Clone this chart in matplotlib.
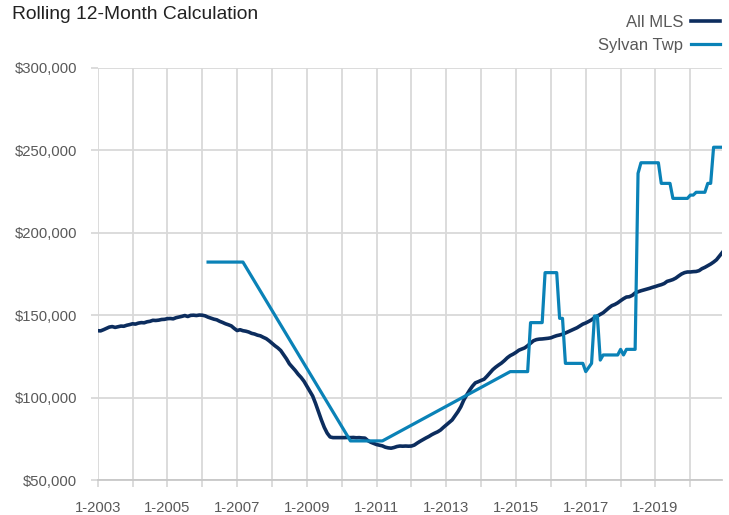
import numpy as np
import matplotlib
matplotlib.use("Agg")
import matplotlib.pyplot as plt
from matplotlib.ticker import FuncFormatter

plt.rcParams['font.family'] = ['Liberation Sans', 'DejaVu Sans']

# monthly rolling 12-month values, in $ thousands, 1-2003 .. 12-2020
years = list(range(2003, 2021))

all_mls = [
    140.6, 140.5, 141.2, 142.0, 142.8, 143.1, 142.6, 143.0, 143.4, 143.3, 143.9, 144.3,  # 2003
    144.8, 144.6, 145.2, 145.5, 145.4, 146.0, 146.3, 146.9, 146.8, 147.0, 147.4, 147.5,  # 2004
    147.9, 148.0, 147.8, 148.5, 148.9, 149.3, 149.8, 149.2, 149.9, 150.0, 149.8, 150.1,  # 2005
    150.0, 149.6, 148.8, 148.2, 147.6, 147.2, 146.3, 145.6, 144.8, 144.2, 143.5, 142.0,  # 2006
    140.7, 141.2, 140.6, 140.3, 139.8, 139.0, 138.6, 137.9, 137.5, 136.6, 135.8, 134.5,  # 2007
    133.0, 131.5, 130.2, 128.6, 126.0, 123.5, 120.5, 118.5, 116.5, 114.2, 112.3, 110.0,  # 2008
    107.0, 104.0, 101.0, 96.5, 91.5, 86.5, 82.0, 78.5, 76.2, 75.8, 75.8, 75.8,  # 2009
    75.8, 75.8, 75.9, 75.8, 75.9, 75.7, 75.8, 75.6, 75.5, 74.0, 73.0, 72.3,  # 2010
    71.6, 71.2, 70.8, 70.0, 69.6, 69.4, 69.8, 70.4, 70.7, 70.6, 70.7, 70.6,  # 2011
    70.7, 71.3, 72.5, 73.6, 74.6, 75.6, 76.5, 77.6, 78.5, 79.3, 80.4, 82.0,  # 2012
    83.5, 85.0, 86.5, 89.0, 91.5, 94.5, 98.5, 101.6, 104.5, 107.0, 109.0, 109.7,  # 2013
    110.5, 111.2, 113.0, 115.0, 117.0, 118.5, 119.8, 121.0, 122.5, 124.2, 125.5, 126.4,  # 2014
    127.5, 128.8, 129.5, 130.2, 131.5, 133.0, 134.5, 135.2, 135.5, 135.6, 135.8, 136.0,  # 2015
    136.3, 137.0, 137.6, 138.0, 138.5, 139.2, 140.0, 140.8, 141.6, 142.4, 143.5, 144.6,  # 2016
    145.3, 146.2, 147.2, 148.5, 149.5, 150.5, 151.5, 153.0, 154.5, 155.8, 156.5, 157.5,  # 2017
    158.8, 160.0, 161.0, 161.2, 162.0, 163.5, 164.2, 164.8, 165.3, 165.8, 166.3, 166.9,  # 2018
    167.4, 168.0, 168.5, 169.2, 170.5, 171.0, 171.6, 172.5, 173.8, 175.0, 175.8, 176.2,  # 2019
    176.2, 176.4, 176.5, 177.0, 178.2, 179.0, 180.0, 181.0, 182.2, 183.6, 185.8, 188.0,  # 2020
]

N = None
sylvan = [
    N, N, N, N, N, N, N, N, N, N, N, N,  # 2003
    N, N, N, N, N, N, N, N, N, N, N, N,  # 2004
    N, N, N, N, N, N, N, N, N, N, N, N,  # 2005
    N, N, 182.2, 182.2, 182.2, 182.2, 182.2, 182.2, 182.2, 182.2, 182.2, 182.2,  # 2006
    182.2, 182.2, 182.2, N, N, N, N, N, N, N, N, N,  # 2007
    N, N, N, N, N, N, N, N, N, N, N, N,  # 2008
    N, N, N, N, N, N, N, N, N, N, N, N,  # 2009
    N, N, N, 73.8, 73.8, 73.8, 73.8, 73.8, 73.8, 73.8, 73.8, 73.8,  # 2010
    73.8, 73.8, 73.8, N, N, N, N, N, N, N, N, N,  # 2011
    N, N, N, N, N, N, N, N, N, N, N, N,  # 2012
    N, N, N, N, N, N, N, N, N, N, N, N,  # 2013
    N, N, N, N, N, N, N, N, N, N, 115.8, 115.8,  # 2014
    115.8, 115.8, 115.8, 115.8, 115.8, 145.5, 145.5, 145.5, 145.5, 145.5, 175.8, 175.8,  # 2015
    175.8, 175.8, 175.8, 148.1, 148.1, 120.8, 120.8, 120.8, 120.8, 120.8, 120.8, 120.8,  # 2016
    115.8, 118.3, 120.8, 149.5, 149.5, 122.8, 125.9, 125.9, 125.9, 125.9, 125.9, 125.9,  # 2017
    129.3, 125.9, 129.3, 129.3, 129.3, 129.3, 236.0, 242.4, 242.4, 242.4, 242.4, 242.4,  # 2018
    242.4, 242.4, 229.9, 229.9, 229.9, 229.9, 220.8, 220.8, 220.8, 220.8, 220.8, 220.8,  # 2019
    222.8, 222.8, 224.5, 224.5, 224.5, 224.5, 229.9, 229.9, 251.8, 251.8, 251.8, 251.8,  # 2020
]

navy = '#0c2d5e'
teal = '#0a82b7'
grid_col = '#d9d9d9'
text_col = '#595959'

x = np.arange(len(all_mls))
mls = np.array(all_mls) * 1000
syl = np.array([np.nan if v is None else v for v in sylvan]) * 1000
ok = ~np.isnan(syl)  # gaps are bridged by a straight line, like the original

fig = plt.figure(figsize=(7.29, 5.15), dpi=100)
ax = fig.add_axes([0.134, 0.0676, 0.8568, 0.8009])

ax.plot(x, mls, color=navy, lw=2.6, label='All MLS', solid_joinstyle='round', zorder=3)
ax.plot(x[ok], syl[ok], color=teal, lw=2.3, label='Sylvan Twp', solid_joinstyle='round', zorder=3)

ax.set_xlim(0, len(all_mls) - 1)
ax.set_ylim(50000, 300000)

ax.set_yticks(np.arange(50000, 300001, 50000))
ax.yaxis.set_major_formatter(FuncFormatter(lambda v, p: '${:,.0f}'.format(v)))

ax.set_xticks(np.arange(0, len(all_mls), 12))
ax.set_xticklabels(['1-%d' % y if (y - 2003) % 2 == 0 else '' for y in years])

ax.grid(True, color=grid_col, lw=1.3)
ax.set_axisbelow(True)
for s in ['top', 'right', 'left']:
    ax.spines[s].set_visible(False)
ax.spines['bottom'].set_color('#c8c8c8')
ax.spines['bottom'].set_linewidth(1.3)

ax.tick_params(axis='y', length=5, width=1.3, color=grid_col, labelcolor=text_col,
               labelsize=10.7, pad=10)
ax.tick_params(axis='x', length=5, width=1.3, color=grid_col, labelcolor=text_col,
               labelsize=10.7, pad=10)

fig.text(0.017, 0.963, 'Rolling 12-Month Calculation', fontsize=13.9, color='#222222',
         ha='left', va='baseline')

fig.legend(loc='upper right', bbox_to_anchor=(1.002, 0.99), frameon=False, markerfirst=False,
           fontsize=12, handlelength=1.75, handletextpad=0.5, labelspacing=0.45,
           labelcolor=text_col, borderaxespad=0.2)

fig.savefig('out.png', dpi=100)
